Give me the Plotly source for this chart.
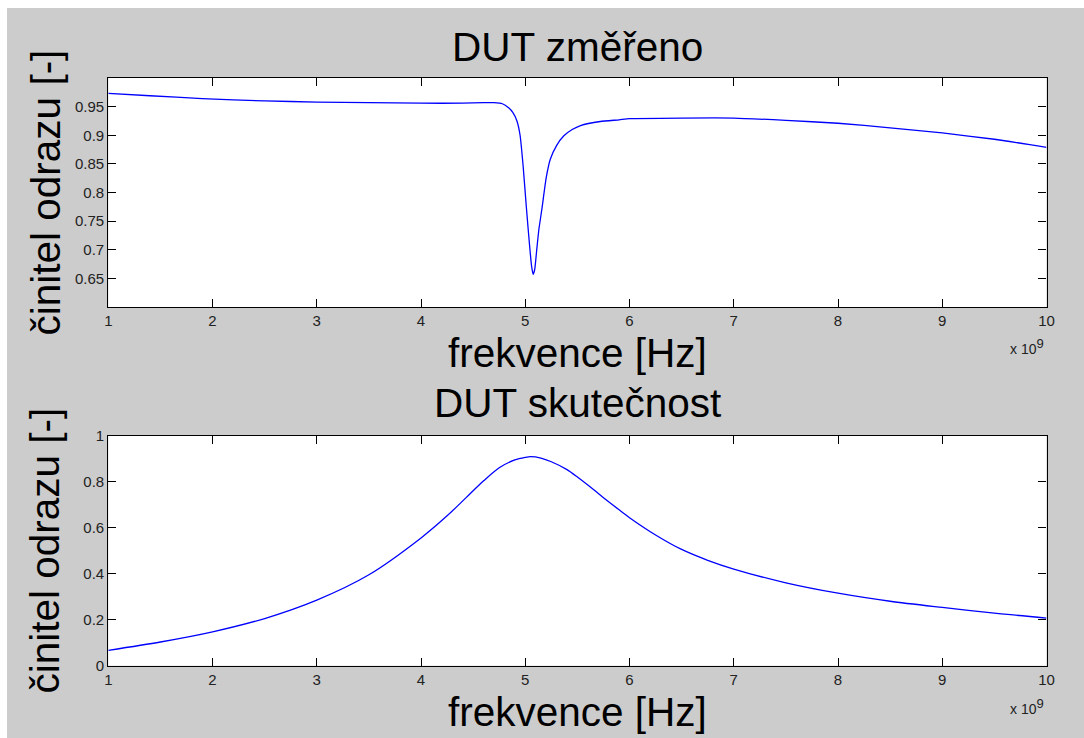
import plotly.graph_objects as go

# Measured reflection coefficient of the DUT (frequency in GHz, value)
freq_measured_ghz = [1.0, 1.4, 1.9, 2.5, 3.0, 3.5, 4.0, 4.4, 4.6, 4.7, 4.78, 4.84, 4.88,
                     4.92, 4.95, 4.98, 5.01, 5.04, 5.06, 5.075, 5.09, 5.11, 5.13, 5.16,
                     5.2, 5.24, 5.3, 5.37, 5.45, 5.53, 5.72, 5.9, 6.0, 6.5, 7.0, 7.5,
                     8.0, 8.5, 9.0, 9.5, 10.0]
refl_measured = [0.973, 0.969, 0.964, 0.960, 0.958, 0.957, 0.956, 0.956, 0.957, 0.957,
                 0.955, 0.948, 0.940, 0.925, 0.900, 0.845, 0.775, 0.710, 0.672, 0.657,
                 0.665, 0.700, 0.735, 0.772, 0.825, 0.858, 0.882, 0.899, 0.910, 0.917,
                 0.924, 0.927, 0.929, 0.930, 0.930, 0.926, 0.921, 0.913, 0.904, 0.893,
                 0.879]

# Actual reflection coefficient of the DUT
freq_actual_ghz = [1.0, 1.5, 2.0, 2.5, 3.0, 3.5, 4.0, 4.25, 4.5, 4.6, 4.75, 4.9, 5.0,
                   5.05, 5.15, 5.25, 5.4, 5.5, 5.6, 5.75, 5.9, 6.0, 6.25, 6.5, 6.75,
                   7.0, 7.5, 8.0, 8.5, 9.0, 9.5, 10.0]
refl_actual = [0.067, 0.103, 0.147, 0.205, 0.285, 0.395, 0.555, 0.651, 0.760, 0.803,
               0.860, 0.894, 0.905, 0.908, 0.902, 0.886, 0.852, 0.820, 0.785, 0.730,
               0.677, 0.643, 0.568, 0.505, 0.458, 0.420, 0.360, 0.315, 0.280, 0.253,
               0.228, 0.207]

x_ticks = [1, 2, 3, 4, 5, 6, 7, 8, 9, 10]
y_ticks_top = [0.65, 0.7, 0.75, 0.8, 0.85, 0.9, 0.95]
y_labels_top = ["0.65", "0.7", "0.75", "0.8", "0.85", "0.9", "0.95"]
y_ticks_bottom = [0, 0.2, 0.4, 0.6, 0.8, 1]
y_labels_bottom = ["0", "0.2", "0.4", "0.6", "0.8", "1"]

W, H = 1084, 738
FONT = "Liberation Sans, Arial, Helvetica, sans-serif"
BG = "#cccccc"
LINE = "#0000ff"
TICK_COLOR = "#222222"


def px_x(p):
    return p / W


def px_y(p):
    return 1 - p / H


fig = go.Figure()
fig.add_trace(go.Scatter(x=freq_measured_ghz, y=refl_measured, mode="lines",
                         line=dict(color=LINE, width=1.3, shape="spline", smoothing=0.5),
                         xaxis="x", yaxis="y", showlegend=False))
fig.add_trace(go.Scatter(x=freq_actual_ghz, y=refl_actual, mode="lines",
                         line=dict(color=LINE, width=1.3, shape="spline", smoothing=0.8),
                         xaxis="x2", yaxis="y2", showlegend=False))

# plot box geometry (pixels)
left, right = 108.3, 1046.5
top1, bot1 = 78.0, 307.0
top2, bot2 = 435.5, 665.7

axis_common = dict(showgrid=False, zeroline=False, showline=True, linecolor="black",
                   linewidth=1.2, mirror="allticks", ticks="inside", ticklen=8,
                   tickcolor="black", tickwidth=1, automargin=False,
                   tickfont=dict(family=FONT, size=15, color=TICK_COLOR))

fig.update_layout(
    width=W, height=H,
    margin=dict(l=0, r=0, t=0, b=0, autoexpand=False),
    paper_bgcolor=BG,
    plot_bgcolor="white",
    xaxis=dict(domain=[px_x(left), px_x(right)], range=[1, 10], tickvals=x_ticks,
               anchor="y", **axis_common),
    yaxis=dict(domain=[px_y(bot1), px_y(top1)], range=[0.6, 1.0], tickvals=y_ticks_top,
               ticktext=y_labels_top, anchor="x", **axis_common),
    xaxis2=dict(domain=[px_x(left), px_x(right)], range=[1, 10], tickvals=x_ticks,
                anchor="y2", **axis_common),
    yaxis2=dict(domain=[px_y(bot2), px_y(top2)], range=[0, 1], tickvals=y_ticks_bottom,
                ticktext=y_labels_bottom, anchor="x2", **axis_common),
    # thin white frame along the left and top edges of the window
    shapes=[
        dict(type="rect", xref="paper", yref="paper", layer="below",
             x0=0, x1=px_x(7), y0=0, y1=1, fillcolor="white", line=dict(width=0)),
        dict(type="rect", xref="paper", yref="paper", layer="below",
             x0=0, x1=1, y0=px_y(8), y1=1, fillcolor="white", line=dict(width=0)),
    ],
)

big = dict(family=FONT, size=40.5, color="black")
small = dict(family=FONT, size=14, color=TICK_COLOR)
cx = (left + right) / 2
exp_text = "x 10<sup><span style='font-size:13px'>9</span></sup>"

annotations = [
    dict(text="DUT změřeno", x=px_x(cx), y=px_y(47), font=big),
    dict(text="DUT skutečnost", x=px_x(cx), y=px_y(403), font=big),
    dict(text="frekvence [Hz]", x=px_x(cx), y=px_y(353), font=big),
    dict(text="frekvence [Hz]", x=px_x(cx), y=px_y(712), font=big),
    dict(text="činitel odrazu [-]", x=px_x(45), y=px_y((top1 + bot1) / 2), font=big,
         textangle=-90),
    dict(text="činitel odrazu [-]", x=px_x(45), y=px_y((top2 + bot2) / 2), font=big,
         textangle=-90),
    dict(text=exp_text, x=px_x(1027), y=px_y(347), font=small),
    dict(text=exp_text, x=px_x(1027), y=px_y(706), font=small),
]
for a in annotations:
    a.update(xref="paper", yref="paper", showarrow=False, xanchor="center", yanchor="middle")
fig.update_layout(annotations=annotations)

fig.write_html("out.html")
